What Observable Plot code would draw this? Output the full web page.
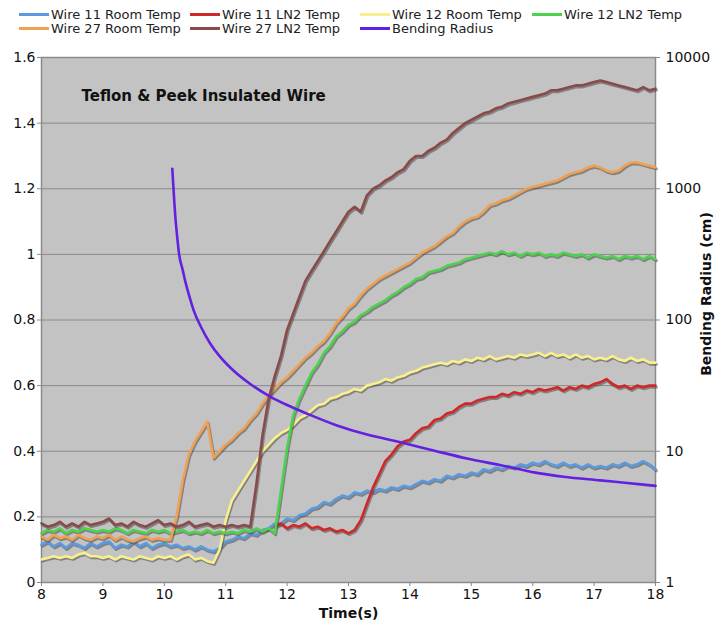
<!DOCTYPE html>
<html><head><meta charset="utf-8">
<script src="https://cdn.jsdelivr.net/npm/d3@7"></script>
<script src="https://cdn.jsdelivr.net/npm/@observablehq/plot@0.6"></script>
<style>
body{margin:0;background:#fff;font-family:"DejaVu Sans",Verdana,sans-serif;}
#legend{position:relative;width:721px;height:40px;}
.item{position:absolute;font-size:13px;line-height:14px;white-space:nowrap;color:#222}
.sw{display:inline-block;width:30px;height:3px;vertical-align:middle;margin-right:2px;margin-top:-2px}
</style></head><body><div id="legend"></div><div id="chart"></div>
<script>
const times = [
 8.0,8.1,8.2,8.3,8.4,8.5,8.6,8.7,8.8,8.9,
 9.0,9.1,9.2,9.3,9.4,9.5,9.6,9.7,9.8,9.9,
 10.0,10.1,10.2,10.3,10.4,10.5,10.6,10.7,10.8,10.9,
 11.0,11.1,11.2,11.3,11.4,11.5,11.6,11.7,11.8,11.9,
 12.0,12.1,12.2,12.3,12.4,12.5,12.6,12.7,12.8,12.9,
 13.0,13.1,13.2,13.3,13.4,13.5,13.6,13.7,13.8,13.9,
 14.0,14.1,14.2,14.3,14.4,14.5,14.6,14.7,14.8,14.9,
 15.0,15.1,15.2,15.3,15.4,15.5,15.6,15.7,15.8,15.9,
 16.0,16.1,16.2,16.3,16.4,16.5,16.6,16.7,16.8,16.9,
 17.0,17.1,17.2,17.3,17.4,17.5,17.6,17.7,17.8,17.9,
 18.0];

const wire11Room = [
 0.115,0.125,0.11,0.12,0.105,0.12,0.115,0.105,0.12,0.11,
 0.12,0.125,0.105,0.115,0.11,0.125,0.11,0.12,0.105,0.115,
 0.12,0.11,0.115,0.105,0.11,0.10,0.11,0.10,0.095,0.105,
 0.125,0.13,0.14,0.135,0.15,0.145,0.16,0.165,0.18,0.18,
 0.195,0.19,0.205,0.21,0.225,0.23,0.245,0.24,0.255,0.265,
 0.26,0.275,0.27,0.28,0.275,0.285,0.28,0.29,0.285,0.295,
 0.29,0.30,0.31,0.305,0.315,0.31,0.325,0.32,0.33,0.325,
 0.335,0.33,0.345,0.34,0.35,0.345,0.355,0.35,0.36,0.355,
 0.365,0.36,0.37,0.36,0.355,0.365,0.355,0.36,0.35,0.36,
 0.35,0.355,0.35,0.36,0.355,0.365,0.355,0.36,0.37,0.36,
 0.345];

const wire11LN2 = [
 null,null,null,null,null,null,null,null,null,null,
 null,null,null,null,null,null,null,null,null,null,
 null,null,null,null,null,null,null,null,null,null,
 null,null,null,null,null,null,null,null,0.17,0.18,
 0.165,0.175,0.17,0.18,0.165,0.17,0.16,0.165,0.155,0.16,
 0.15,0.16,0.19,0.24,0.29,0.33,0.37,0.39,0.415,0.43,
 0.435,0.455,0.47,0.475,0.495,0.50,0.515,0.52,0.535,0.545,
 0.545,0.555,0.56,0.565,0.565,0.575,0.57,0.58,0.575,0.585,
 0.58,0.59,0.585,0.59,0.595,0.585,0.595,0.59,0.60,0.595,
 0.605,0.61,0.62,0.605,0.595,0.60,0.59,0.60,0.595,0.60,
 0.60];

const wire12Room = [
 0.07,0.075,0.08,0.075,0.08,0.075,0.085,0.09,0.08,0.08,
 0.075,0.08,0.07,0.08,0.075,0.07,0.08,0.075,0.07,0.08,
 0.075,0.08,0.07,0.08,0.085,0.07,0.075,0.065,0.06,0.10,
 0.19,0.25,0.28,0.31,0.34,0.37,0.40,0.42,0.44,0.455,
 0.465,0.48,0.50,0.51,0.525,0.54,0.545,0.56,0.565,0.575,
 0.58,0.59,0.585,0.60,0.605,0.61,0.62,0.615,0.625,0.63,
 0.64,0.645,0.655,0.66,0.665,0.67,0.665,0.675,0.67,0.68,
 0.675,0.685,0.68,0.69,0.68,0.685,0.69,0.685,0.695,0.69,
 0.695,0.70,0.69,0.70,0.69,0.695,0.685,0.695,0.685,0.69,
 0.68,0.685,0.68,0.69,0.68,0.675,0.685,0.675,0.68,0.67,
 0.67];

const wire12LN2 = [
 0.15,0.16,0.155,0.165,0.15,0.16,0.155,0.165,0.16,0.155,
 0.16,0.155,0.165,0.16,0.15,0.16,0.155,0.15,0.16,0.155,
 0.16,0.15,0.155,0.16,0.15,0.155,0.15,0.16,0.15,0.155,
 0.15,0.155,0.15,0.16,0.155,0.165,0.155,0.165,0.15,0.28,
 0.41,0.51,0.56,0.60,0.64,0.665,0.70,0.72,0.75,0.765,
 0.785,0.795,0.815,0.825,0.84,0.85,0.86,0.875,0.885,0.90,
 0.91,0.925,0.93,0.945,0.95,0.955,0.965,0.97,0.975,0.985,
 0.99,0.995,1.0,1.005,1.0,1.01,1.0,1.005,0.995,1.005,
 1.0,1.005,0.995,1.0,0.995,1.005,1.0,0.995,1.0,0.99,
 1.0,0.995,0.99,0.995,0.985,0.995,0.99,0.995,0.985,0.995,
 0.985];

const wire27Room = [
 0.14,0.13,0.145,0.135,0.14,0.13,0.145,0.135,0.13,0.14,
 0.135,0.145,0.13,0.14,0.13,0.125,0.135,0.14,0.13,0.135,
 0.13,0.13,0.20,0.31,0.39,0.43,0.46,0.49,0.38,0.40,
 0.42,0.435,0.455,0.47,0.495,0.515,0.545,0.57,0.59,0.61,
 0.625,0.645,0.665,0.685,0.70,0.72,0.735,0.76,0.79,0.81,
 0.835,0.85,0.875,0.895,0.91,0.925,0.935,0.945,0.955,0.965,
 0.975,0.99,1.005,1.015,1.025,1.04,1.055,1.065,1.085,1.10,
 1.11,1.115,1.13,1.15,1.155,1.165,1.17,1.18,1.19,1.20,
 1.205,1.21,1.215,1.22,1.225,1.235,1.245,1.25,1.255,1.265,
 1.27,1.265,1.255,1.25,1.255,1.27,1.28,1.28,1.275,1.27,
 1.265];

const wire27LN2 = [
 0.18,0.17,0.175,0.185,0.17,0.18,0.17,0.185,0.175,0.18,
 0.185,0.195,0.175,0.18,0.17,0.185,0.175,0.17,0.18,0.19,
 0.175,0.18,0.17,0.175,0.185,0.17,0.175,0.18,0.17,0.175,
 0.17,0.175,0.17,0.175,0.17,0.30,0.45,0.56,0.63,0.69,
 0.77,0.82,0.87,0.92,0.95,0.98,1.01,1.04,1.07,1.10,
 1.13,1.145,1.13,1.18,1.20,1.21,1.225,1.235,1.25,1.26,
 1.285,1.30,1.30,1.315,1.325,1.34,1.35,1.37,1.385,1.40,
 1.41,1.42,1.43,1.435,1.445,1.45,1.46,1.465,1.47,1.475,
 1.48,1.485,1.49,1.50,1.50,1.505,1.51,1.515,1.515,1.52,
 1.525,1.53,1.525,1.52,1.515,1.51,1.505,1.50,1.51,1.50,
 1.505];

const radiusTimes = [10.13,10.15,10.18,10.21,10.24,10.30,10.35,10.42,10.48,10.60,10.75,10.90,11.13,11.40,11.73,12.00,12.33,12.80,13.30,13.85,14.40,14.93,15.50,16.02,16.50,17.10,17.50,18.00];
const radiusCm   = [1420,1000,610,430,320,240,190,145,118,88,66,53,41,32.5,26,22.5,19.3,15.8,13.4,11.7,10.1,8.8,7.8,6.9,6.4,6.0,5.75,5.45];

const seriesNames = ["Wire 11 Room Temp","Wire 11 LN2 Temp","Wire 12 Room Temp","Wire 12 LN2 Temp","Wire 27 Room Temp","Wire 27 LN2 Temp","Bending Radius"];
const seriesColors = ["#5a9ae0","#d02828","#f8f08c","#4cd24c","#f0a050","#8a4a4a","#6420e0"];
const seriesData = [wire11Room, wire11LN2, wire12Room, wire12LN2, wire27Room, wire27LN2];

const xTicks = [8,9,10,11,12,13,14,15,16,17,18];
const leftTicks = [0,0.2,0.4,0.6,0.8,1,1.2,1.4,1.6];
const leftTickLabels = ["0","0.2","0.4","0.6","0.8","1","1.2","1.4","1.6"];
const rightTickLabels = ["1","10","100","1000","10000"];
const rightTickPos = [0,0.4,0.8,1.2,1.6];
const titleText = "Teflon & Peek Insulated Wire";
const xLabel = "Time(s)";
const y2Label = "Bending Radius (cm)";

// legend (HTML, above the SVG)
const legendPos = [[19,8],[190,8],[360,8],[532,8],[19,22],[190,22],[360,22]];
const legendOrder = [0,1,2,3,4,5,6];
const leg = document.getElementById("legend");
legendOrder.forEach((k,i)=>{
  const d = document.createElement("div");
  d.className = "item";
  d.style.left = legendPos[i][0]+"px";
  d.style.top = legendPos[i][1]+"px";
  d.innerHTML = `<span class="sw" style="background:${seriesColors[k]}"></span>${seriesNames[k]}`;
  leg.appendChild(d);
});

const lineMarks = [];
seriesData.forEach((vals, k) => {
  const rows = times.map((t,i)=>({t, v: vals[i]})).filter(d => d.v != null);
  lineMarks.push(Plot.line(rows, {x:"t", y:"v", stroke:"#333", strokeOpacity:0.45, strokeWidth:3, dx:1, dy:1.5}));
  lineMarks.push(Plot.line(rows, {x:"t", y:"v", stroke:seriesColors[k], strokeWidth:2.6}));
});
const radiusRows = radiusTimes.map((t,i)=>({t, r: radiusCm[i]}));
lineMarks.push(Plot.line(radiusRows, {x:"t", y: d => Math.log10(d.r) * 0.4, stroke:seriesColors[6], strokeWidth:2.6, curve:"monotone-x"}));

const chart = Plot.plot({
  width: 721, height: 586,
  marginTop: 17, marginLeft: 41, marginRight: 66, marginBottom: 44,
  style: {fontFamily:"DejaVu Sans, Verdana, sans-serif", fontSize:"14px", color:"#111", background:"white", overflow:"visible"},
  x: {domain:[8,18]},
  y: {domain:[0,1.6]},
  marks: [
    Plot.frame({fill:"#c3c3c3", stroke:"none"}),
    Plot.gridY(leftTicks, {stroke:"#8a8a8a", strokeOpacity:1, strokeWidth:1}),
    Plot.frame({stroke:"#8a8a8a", strokeWidth:1.5}),
    ...lineMarks,
    Plot.axisY(leftTicks, {tickSize:4, tickPadding:2, label:null, stroke:"#8a8a8a", tickFormat:(d,i)=>leftTickLabels[i]}),
    Plot.axisY(rightTickPos, {anchor:"right", tickSize:4, tickPadding:6, label:null, stroke:"#8a8a8a", tickFormat:(d,i)=>rightTickLabels[i]}),
    Plot.axisX(xTicks, {tickSize:4, tickPadding:3, label:null, stroke:"#8a8a8a", tickFormat:d=>String(d)}),
    Plot.text([xLabel], {frameAnchor:"bottom", dy:35, textAnchor:"middle", fontWeight:"bold", fontSize:14, fill:"#111"}),
    Plot.text([y2Label], {frameAnchor:"right", dx:51, dy:-26, rotate:-90, textAnchor:"middle", fontWeight:"bold", fontSize:14, fill:"#111"}),
    Plot.text([titleText], {frameAnchor:"top-left", dx:40, dy:33, textAnchor:"start", fontWeight:"bold", fontSize:15, fill:"#111"})
  ]
});
document.getElementById("chart").appendChild(chart);
</script></body></html>
